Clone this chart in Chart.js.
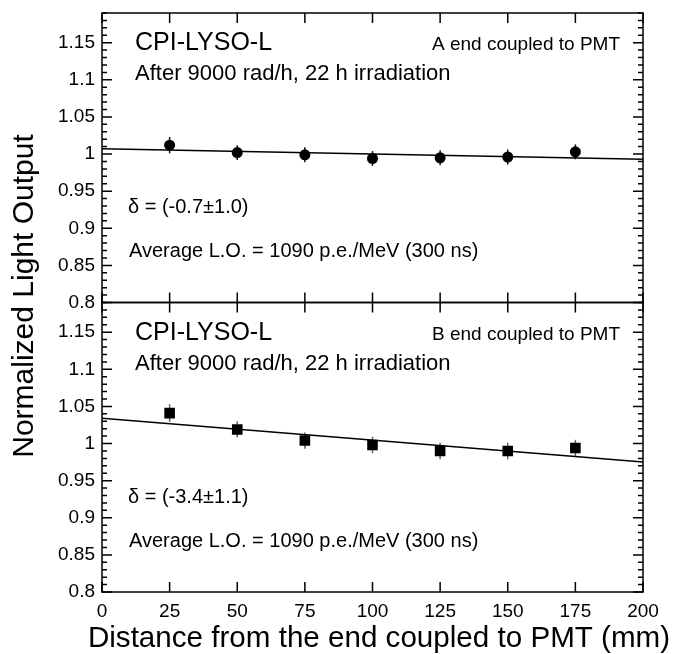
<!DOCTYPE html>
<html>
<head>
<meta charset="utf-8">
<script src="https://cdn.jsdelivr.net/npm/chart.js@4"></script>
<style>
html, body { margin: 0; padding: 0; background: #fff; }
</style>
</head>
<body>
<canvas id="myChart" width="675" height="654"></canvas>
<script>
// data
const distances = [25, 50, 75, 100, 125, 150, 175];
const lightA = [1.012, 1.002, 0.999, 0.994, 0.995, 0.996, 1.003];
const errA = [0.011, 0.010, 0.010, 0.010, 0.010, 0.010, 0.010];
const lightB = [1.041, 1.019, 1.004, 0.998, 0.990, 0.990, 0.994];
const errB = [0.012, 0.011, 0.011, 0.011, 0.011, 0.011, 0.011];
const fitX = [0, 200];
const fitA = [1.007, 0.993];
const fitB = [1.034, 0.975];

const xTicks = [0, 25, 50, 75, 100, 125, 150, 175, 200];
const yTicks = [0.8, 0.85, 0.9, 0.95, 1.0, 1.05, 1.1, 1.15];
const yTickLabels = ['0.8', '0.85', '0.9', '0.95', '1', '1.05', '1.1', '1.15'];

const xTitle = 'Distance from the end coupled to PMT (mm)';
const yTitle = 'Normalized Light Output';
const crystal = 'CPI-LYSO-L';
const doseText = 'After 9000 rad/h, 22 h irradiation';
const endA = 'A end coupled to PMT';
const endB = 'B end coupled to PMT';
const deltaA = 'δ = (-0.7±1.0)';
const deltaB = 'δ = (-3.4±1.1)';
const avgText = 'Average L.O. = 1090 p.e./MeV (300 ns)';

const FONT = '"Liberation Sans", Arial, Helvetica, sans-serif';
Chart.defaults.font.family = FONT;
Chart.defaults.color = '#000';

const toPts = (xs, ys) => xs.map((x, i) => ({x: x, y: ys[i]}));

const yScaleOpts = () => ({
    type: 'linear',
    position: 'left',
    stack: 'panels',
    stackWeight: 1,
    min: 0.8,
    max: 1.19,
    grid: {display: false, drawTicks: false},
    border: {display: false},
    afterBuildTicks: (scale) => { scale.ticks = yTicks.map(v => ({value: v})); },
    afterFit: (scale) => {
        scale.width = 92;
        // labels sit inside the range, no extra room needed above/below
        scale.paddingTop = 0;
        scale.paddingBottom = 0;
    },
    ticks: {
        font: {size: 19},
        padding: 7,
        autoSkip: false,
        callback: (value) => yTickLabels[yTicks.indexOf(value)]
    }
});

const panelPlugin = {
    id: 'panels',
    beforeDatasetsDraw: (chart) => {
        const ctx = chart.ctx;
        const xs = chart.scales.x;
        const bars = (ys, vals, errs, color) => {
            ctx.save();
            ctx.strokeStyle = color;
            ctx.lineWidth = 1.5;
            for (let i = 0; i < distances.length; i++) {
                const px = xs.getPixelForValue(distances[i]);
                ctx.beginPath();
                ctx.moveTo(px, ys.getPixelForValue(vals[i] - errs[i]));
                ctx.lineTo(px, ys.getPixelForValue(vals[i] + errs[i]));
                ctx.stroke();
            }
            ctx.restore();
        };
        bars(chart.scales.yTop, lightA, errA, '#111');
        bars(chart.scales.yBot, lightB, errB, '#666');
    },
    afterDatasetsDraw: (chart) => {
        const ctx = chart.ctx;
        const xs = chart.scales.x;
        const area = chart.chartArea;
        ctx.save();
        ctx.strokeStyle = '#000';
        ctx.lineWidth = 1.5;
        [chart.scales.yTop, chart.scales.yBot].forEach(ys => {
            const top = ys.getPixelForValue(ys.max);
            const bottom = ys.getPixelForValue(ys.min);
            ctx.strokeRect(area.left, top, area.right - area.left, bottom - top);
            ctx.beginPath();
            // x ticks, inward at both edges of the panel
            xTicks.forEach(v => {
                const px = xs.getPixelForValue(v);
                ctx.moveTo(px, top); ctx.lineTo(px, top + 10);
                ctx.moveTo(px, bottom); ctx.lineTo(px, bottom - 10);
            });
            // y ticks, major and minor, on both sides
            for (let k = 80; k <= 119; k++) {
                const py = ys.getPixelForValue(k / 100);
                const len = (k % 5 === 0) ? 10 : 5;
                ctx.moveTo(area.left, py); ctx.lineTo(area.left + len, py);
                ctx.moveTo(area.right, py); ctx.lineTo(area.right - len, py);
            }
            ctx.stroke();
        });
        ctx.restore();

        // panel texts
        ctx.save();
        ctx.fillStyle = '#000';
        ctx.textBaseline = 'alphabetic';
        const texts = (ys, endText, deltaText) => {
            const top = ys.getPixelForValue(ys.max);
            ctx.textAlign = 'left';
            ctx.font = '25px ' + FONT;
            ctx.fillText(crystal, area.left + 33, top + 37);
            ctx.font = '22px ' + FONT;
            ctx.fillText(doseText, area.left + 33, top + 67);
            ctx.font = '20px ' + FONT;
            ctx.fillText(deltaText, area.left + 26, top + 200);
            ctx.fillText(avgText, area.left + 27, top + 244);
            ctx.font = '19px ' + FONT;
            ctx.textAlign = 'right';
            ctx.fillText(endText, area.right - 23, top + 37);
        };
        texts(chart.scales.yTop, endA, deltaA);
        texts(chart.scales.yBot, endB, deltaB);

        // axis titles
        ctx.font = '29.6px ' + FONT;
        ctx.textAlign = 'center';
        ctx.fillText(xTitle, 379, 647);
        ctx.font = '30px ' + FONT;
        ctx.translate(33, 296);
        ctx.rotate(-Math.PI / 2);
        ctx.fillText(yTitle, 0, 0);
        ctx.restore();
    }
};

const ctx = document.getElementById('myChart').getContext('2d');

const myChart = new Chart(ctx, {
    type: 'scatter',
    plugins: [panelPlugin],
    data: {
        datasets: [{
            label: 'A end',
            data: toPts(distances, lightA),
            yAxisID: 'yTop',
            pointStyle: 'circle',
            pointRadius: 5.5,
            backgroundColor: '#000',
            borderWidth: 0,
            order: 1
        }, {
            label: 'A fit',
            data: toPts(fitX, fitA),
            yAxisID: 'yTop',
            showLine: true,
            pointRadius: 0,
            borderColor: '#000',
            borderWidth: 1.5,
            order: 2
        }, {
            label: 'B end',
            data: toPts(distances, lightB),
            yAxisID: 'yBot',
            pointStyle: 'rect',
            pointRadius: 7.5,
            backgroundColor: '#000',
            borderWidth: 0,
            order: 1
        }, {
            label: 'B fit',
            data: toPts(fitX, fitB),
            yAxisID: 'yBot',
            showLine: true,
            pointRadius: 0,
            borderColor: '#000',
            borderWidth: 1.5,
            order: 2
        }]
    },
    options: {
        responsive: false,
        animation: false,
        layout: {padding: {left: 10, right: 32, top: 13, bottom: 0}},
        plugins: {legend: {display: false}, tooltip: {enabled: false}},
        scales: {
            x: {
                type: 'linear',
                min: 0,
                max: 200,
                grid: {display: false, drawTicks: false},
                border: {display: false},
                afterBuildTicks: (scale) => { scale.ticks = xTicks.map(v => ({value: v})); },
                afterFit: (scale) => { scale.height = 62; },
                ticks: {font: {size: 19}, padding: 8, maxRotation: 0, autoSkip: false}
            },
            yBot: yScaleOpts(),
            yTop: yScaleOpts()
        }
    }
});
</script>
</body>
</html>
